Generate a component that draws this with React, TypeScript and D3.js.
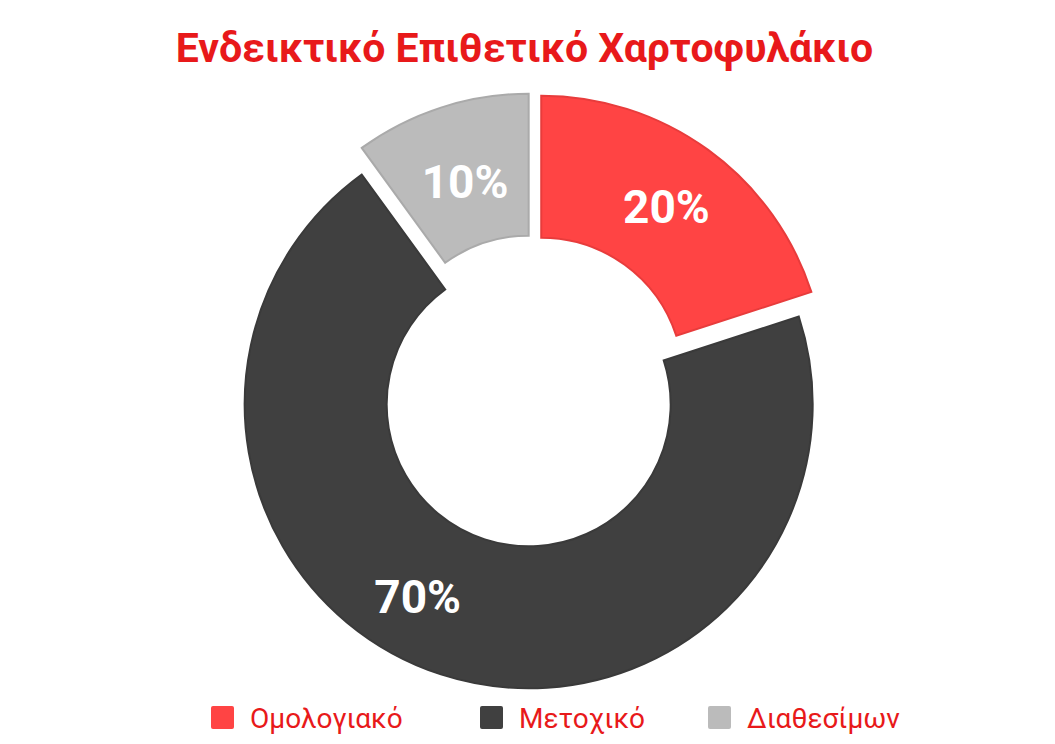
import React from "react";
import * as d3 from "d3";

const categories = ["Ομολογιακό", "Μετοχικό", "Διαθεσίμων"];
const values = [20, 70, 10];
const labels = ["20%", "70%", "10%"];
const colors = ["#ff4444", "#404040", "#bbbbbb"];
const borders = ["#e83c3c", "#3a3a3a", "#aaaaaa"];
const title = "Ενδεικτικό Επιθετικό Χαρτοφυλάκιο";

const W = 1055;
const H = 744;

export default function App() {
  const cx = 533;
  const cy = 391;
  const rOut = 284;
  const rIn = 142;
  const offset = 14;
  const pie = d3.pie<number>().sort(null).startAngle(0).endAngle(2 * Math.PI);
  const arcs = pie(values);
  const arcGen = d3.arc<d3.PieArcDatum<number>>().innerRadius(rIn).outerRadius(rOut);
  const labelShift = [0, (12 * Math.PI) / 180, 0];
  const labelR = [213, 222, 206];
  const redText = "#e8191a";
  const legendX = [211, 480, 708];
  return (
    <svg width={W} height={H} style={{ position: "absolute", left: 0, top: 0, fontFamily: "Roboto" }}>
      <text x={W / 2 - 3} y={62} textAnchor="middle" fontSize={41} fontWeight={700} fill={redText}>
        {title}
      </text>
      <g transform={`translate(${cx},${cy})`}>
        {arcs.map((a, i) => {
          const mid = (a.startAngle + a.endAngle) / 2;
          const ox = offset * Math.sin(mid);
          const oy = -offset * Math.cos(mid);
          const la = mid + labelShift[i];
          const lr = labelR[i];
          const lx = ox + lr * Math.sin(la);
          const ly = oy - lr * Math.cos(la);
          return (
            <g key={i}>
              <path
                d={arcGen(a) || ""}
                transform={`translate(${ox},${oy})`}
                fill={colors[i]}
                stroke={borders[i]}
                strokeWidth={2}
                strokeLinejoin="miter"
              />
              <text
                x={lx}
                y={ly}
                textAnchor="middle"
                dominantBaseline="central"
                fontSize={46}
                fontWeight={700}
                fill="#ffffff"
              >
                {labels[i]}
              </text>
            </g>
          );
        })}
      </g>
      {categories.map((c, i) => (
        <g key={c} transform={`translate(${legendX[i]},706)`}>
          <rect x={0} y={0} width={23} height={23} rx={2} fill={colors[i]} />
          <text x={39} y={22} fontSize={28} fill={redText}>
            {c}
          </text>
        </g>
      ))}
    </svg>
  );
}
